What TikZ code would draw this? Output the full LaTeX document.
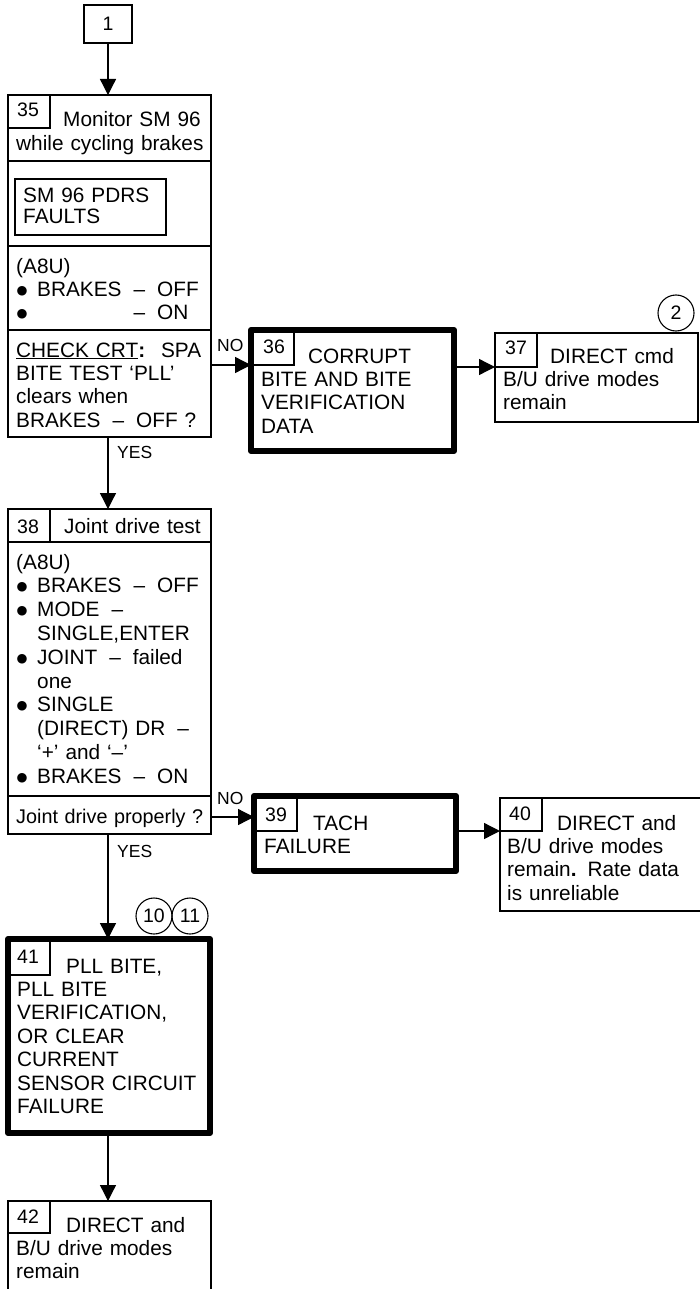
\documentclass[tikz,border=0pt]{standalone}
\usepackage{fontspec}
\setmainfont{Liberation Sans}
\newfontfamily\dejavu{DejaVu Sans}
\usetikzlibrary{arrows.meta}
\newcommand\myul[1]{\setbox0\hbox{#1}\rlap{\rule[-2.2pt]{\wd0}{1.3pt}}\box0}
\newcommand\bul{\makebox[21pt][l]{\hspace{0.5pt}{\dejavu\fontsize{12.5}{12.5}\selectfont\raisebox{2pt}{●}}}}
\newcommand\ind{\hspace*{21pt}}
\newcommand\dsh{\hspace{12pt}–\hspace{12pt}}
\begin{document}
\begin{tikzpicture}[x=1pt,y=-1pt,
  bx/.style={draw, line width=1.3pt, rectangle, inner sep=0pt, outer sep=0pt, anchor=north west},
  thickbx/.style={draw, line width=6pt, line join=round, rectangle, inner sep=0pt, outer sep=0pt, anchor=north west},
  txt/.style={anchor=base west, inner sep=0pt, text width=#1, align=left, font=\fontsize{20.8}{23.4}\selectfont},
  txt/.default=200pt,
  num/.style={anchor=base west, inner sep=0pt, font=\fontsize{19.5}{22}\selectfont},
  lbl/.style={anchor=base west, inner sep=0pt, font=\fontsize{17.5}{20}\selectfont},
  arr/.style={line width=1.3pt, -{Triangle[length=16pt,width=16pt]}},
  refc/.style={draw, circle, line width=1.1pt, minimum size=36pt, inner sep=0pt, font=\fontsize{19.5}{22}\selectfont},
]
\useasboundingbox (0,0) rectangle (699,1289);

% box 1
\node[bx, minimum width=48pt, minimum height=38pt, font=\fontsize{19.5}{22}\selectfont] (b1) at (84,5) {1};

% box 35
\node[bx, minimum width=203pt, minimum height=66pt] (h35) at (8,95) {};
\node[bx, minimum width=42pt, minimum height=33pt] (t35) at (8,95) {};
\node[bx, minimum width=203pt, minimum height=85pt] (s35a) at (8,161) {};
\node[bx, minimum width=151pt, minimum height=56pt] (f35) at (15,179) {};
\node[bx, minimum width=203pt, minimum height=84pt] (s35b) at (8,246) {};
\node[bx, minimum width=203pt, minimum height=107pt] (q35) at (8,330) {};
\node[num] (n35) at (17,117) {35};
\node[txt] (x35a) at (16,127) {\hspace*{47pt}Monitor SM 96\\while cycling brakes};
\node[txt, font=\fontsize{20.8}{21}\selectfont] (x35b) at (23,203) {SM 96 PDRS\\FAULTS};
\node[txt] (x35c) at (16,273) {(A8U)\\\bul BRAKES\dsh OFF\\\bul\hspace{96.4pt}–\hspace{12pt}ON};
\node[txt=185pt] (x35d) at (16,357) {\myul{CHECK CRT}\textbf{:}\hfill SPA\\BITE TEST ‘PLL’\\clears when\\BRAKES\dsh OFF ?};

% box 36
\node[thickbx, minimum width=203pt, minimum height=121pt] (b36) at (251,330) {};
\node[bx, minimum width=43pt, minimum height=35pt] (t36) at (251,330) {};
\node[num] (n36) at (263,353) {36};
\node[txt] (x36) at (261,363) {\hspace*{47pt}CORRUPT\\BITE AND BITE\\VERIFICATION\\DATA};

% box 37
\node[bx, minimum width=203pt, minimum height=89pt] (b37) at (495,333) {};
\node[bx, minimum width=42pt, minimum height=34pt] (t37) at (495,333) {};
\node[num] (n37) at (505,354) {37};
\node[txt] (x37) at (503,363) {\hspace*{47pt}DIRECT cmd\\B/U drive modes\\remain};
\node[refc] (c2) at (676,313) {2};

% box 38
\node[bx, minimum width=203pt, minimum height=33pt] (h38) at (8,509) {};
\node[bx, minimum width=42pt, minimum height=33pt] (t38) at (8,509) {};
\node[bx, minimum width=203pt, minimum height=254pt] (s38) at (8,542) {};
\node[bx, minimum width=203pt, minimum height=38pt] (q38) at (8,796) {};
\node[num] (n38) at (17,533) {38};
\node[txt] (x38a) at (64,533) {Joint drive test};
\node[txt, font=\fontsize{20.8}{23.8}\selectfont] (x38b) at (16,569) {(A8U)\\\bul BRAKES\dsh OFF\\\bul MODE\hspace{12pt}–\\\ind SINGLE,ENTER\\\bul JOINT\dsh failed\\\ind one\\\bul SINGLE\\\ind (DIRECT) DR\hspace{12pt}–\\\ind ‘+’ and ‘–’\\\bul BRAKES\dsh ON};
\node[txt, font=\fontsize{19.8}{23}\selectfont] (x38c) at (16,823) {Joint drive properly ?};

% box 39
\node[thickbx, minimum width=202pt, minimum height=75pt] (b39) at (254,796) {};
\node[bx, minimum width=43pt, minimum height=35pt] (t39) at (254,796) {};
\node[num] (n39) at (265,821) {39};
\node[txt] (x39) at (264,830) {\hspace*{49pt}TACH\\FAILURE};

% box 40
\node[bx, minimum width=205pt, minimum height=113pt] (b40) at (500,798) {};
\node[bx, minimum width=42pt, minimum height=33pt] (t40) at (500,798) {};
\node[num] (n40) at (509,820) {40};
\node[txt] (x40) at (507,830) {\hspace*{50pt}DIRECT and\\B/U drive modes\\remain\textbf{.}\hspace{11pt}Rate data\\is unreliable};

% box 41
\node[thickbx, minimum width=202pt, minimum height=194pt] (b41) at (8,939) {};
\node[bx, minimum width=42pt, minimum height=36pt] (t41) at (8,939) {};
\node[num] (n41) at (17,963) {41};
\node[txt] (x41) at (17,973) {\hspace*{49pt}PLL BITE,\\PLL BITE\\VERIFICATION,\\OR CLEAR\\CURRENT\\SENSOR CIRCUIT\\FAILURE};
\node[refc] (c10) at (154,916) {10};
\node[refc] (c11) at (190,916) {11};

% box 42
\node[bx, minimum width=203pt, minimum height=100pt] (b42) at (8,1201) {};
\node[bx, minimum width=42pt, minimum height=32pt] (t42) at (8,1201) {};
\node[num] (n42) at (17,1223) {42};
\node[txt] (x42) at (16,1232) {\hspace*{50pt}DIRECT and\\B/U drive modes\\remain};

% connectors
\draw[arr] (b1.south) -- (b1.south |- h35.north);
\draw[arr] (q35.south -| b1.south) -- (b1.south |- h38.north);
\draw[arr] (q35.east |- t36.south) -- (b36.west |- t36.south);
\draw[arr] (b36.east |- t37.south) -- (b37.west |- t37.south);
\draw[arr] ([yshift=-2pt]q38.east) -- ([yshift=-2pt]b39.west |- q38.east);
\draw[arr] (b39.east |- t40.south) -- (b40.west |- t40.south);
\draw[arr] (q38.south -| b1.south) -- (b1.south |- b41.north);
\draw[arr] (b41.south -| b1.south) -- (b1.south |- b42.north);

% labels
\node[lbl] (no1) at (217,351) {NO};
\node[lbl] (yes1) at (117,458) {YES};
\node[lbl] (no2) at (217,804) {NO};
\node[lbl] (yes2) at (117,857) {YES};
\end{tikzpicture}
\end{document}
